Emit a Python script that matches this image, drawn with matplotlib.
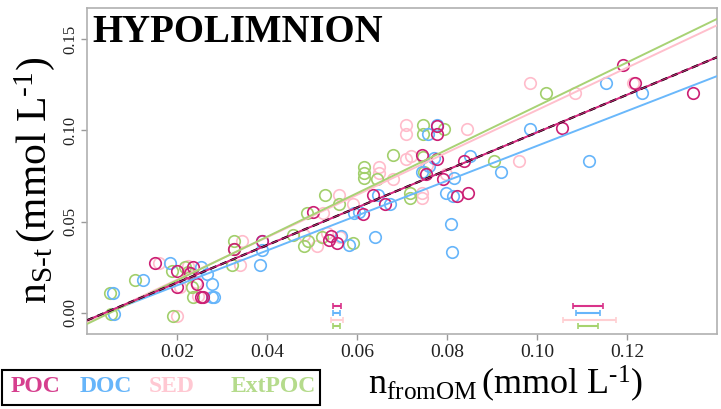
import matplotlib
matplotlib.use("Agg")
import matplotlib.pyplot as plt
import numpy as np
from matplotlib.patches import Rectangle

plt.rcParams['font.family'] = ['Liberation Serif', 'DejaVu Serif']
plt.rcParams['mathtext.fontset'] = 'custom'
plt.rcParams['mathtext.rm'] = 'Liberation Serif'
plt.rcParams['mathtext.it'] = 'Liberation Serif:italic'
plt.rcParams['mathtext.bf'] = 'Liberation Serif:bold'

# ---------------- data ----------------
series_names = ["POC", "DOC", "SED", "ExtPOC"]

poc_x = [0.0151, 0.0199, 0.0236, 0.0229, 0.0244, 0.0199, 0.0253, 0.0257, 0.0327, 0.0388,
         0.0538, 0.0542, 0.0556, 0.0777, 0.0777, 0.0744, 0.0777, 0.0753, 0.0790, 0.0822,
         0.0846, 0.0636, 0.0662, 0.0502, 0.0613, 0.0838, 0.1190, 0.1218, 0.1347, 0.1055]
poc_y = [0.0272, 0.0232, 0.0250, 0.0217, 0.0159, 0.0141, 0.0089, 0.0086, 0.0349, 0.0396,
         0.0400, 0.0421, 0.0383, 0.1024, 0.0978, 0.0863, 0.0843, 0.0761, 0.0732, 0.0640,
         0.0655, 0.0646, 0.0595, 0.0551, 0.0542, 0.0832, 0.1357, 0.1257, 0.1206, 0.1011]

doc_x = [0.0058, 0.0060, 0.0125, 0.0184, 0.0253, 0.0266, 0.0277, 0.0277, 0.0282, 0.0384,
         0.0388, 0.0388, 0.0564, 0.0582, 0.0640, 0.0758, 0.0777, 0.0772, 0.0761, 0.0744,
         0.0850, 0.0920, 0.0816, 0.0797, 0.0814, 0.0646, 0.0673, 0.0593, 0.0604, 0.0809,
         0.0811, 0.0984, 0.1153, 0.1233, 0.1116]
doc_y = [0.0108, -0.0007, 0.0181, 0.0275, 0.0253, 0.0213, 0.0159, 0.0089, 0.0086, 0.0263,
         0.0396, 0.0345, 0.0421, 0.0372, 0.0416, 0.0978, 0.1029, 0.0847, 0.0805, 0.0770,
         0.0859, 0.0770, 0.0737, 0.0655, 0.0640, 0.0646, 0.0595, 0.0546, 0.0554, 0.0487,
         0.0334, 0.1007, 0.1257, 0.1206, 0.0834]

sed_x = [0.0161, 0.0224, 0.0207, 0.0201, 0.0242, 0.0247, 0.0345, 0.0340, 0.0482, 0.0510,
         0.0533, 0.0559, 0.0590, 0.0525, 0.0562, 0.0649, 0.0649, 0.0681, 0.0709, 0.0709,
         0.0709, 0.0719, 0.0755, 0.0798, 0.0744, 0.0744, 0.0844, 0.0984, 0.0960, 0.1084,
         0.1214]
sed_y = [0.0272, 0.0257, 0.0141, -0.0016, 0.0170, 0.0093, 0.0396, 0.0263, 0.0427, 0.0367,
         0.0436, 0.0646, 0.0595, 0.0546, 0.0416, 0.0801, 0.0768, 0.0732, 0.1029, 0.0978,
         0.0843, 0.0859, 0.0810, 0.0761, 0.0655, 0.0631, 0.1007, 0.1257, 0.0834, 0.1206,
         0.1257]

ext_x = [0.0050, 0.0053, 0.0107, 0.0192, 0.0188, 0.0218, 0.0225, 0.0233, 0.0235, 0.0327,
         0.0327, 0.0322, 0.0458, 0.0482, 0.0492, 0.0522, 0.0529, 0.0488, 0.0561, 0.0591,
         0.0616, 0.0616, 0.0616, 0.0644, 0.0681, 0.0746, 0.0746, 0.0746, 0.0749, 0.0794,
         0.0905, 0.0718, 0.0718, 0.1019]
ext_y = [0.0108, -0.0007, 0.0181, -0.0016, 0.0232, 0.0250, 0.0226, 0.0141, 0.0089, 0.0396,
         0.0349, 0.0263, 0.0427, 0.0367, 0.0396, 0.0418, 0.0646, 0.0546, 0.0595, 0.0383,
         0.0801, 0.0768, 0.0737, 0.0732, 0.0863, 0.1029, 0.0978, 0.0852, 0.0770, 0.1007,
         0.0832, 0.0658, 0.0631, 0.1206]

# regression lines: intercept, slope
fit_intercepts = [-0.004, -0.004, -0.005, -0.006]
fit_slopes = [1.029, 0.955, 1.161, 1.193]
overall_intercept = -0.004
overall_slope = 1.029

# error bars (centre, half-width, y level)
err_y = [0.0038, 0.0, -0.0037, -0.0071]
err_left_c = [0.0556, 0.0555, 0.0555, 0.0555]
err_left_h = [0.0009, 0.0008, 0.0013, 0.0008]
err_right_c = [0.1114, 0.1114, 0.1117, 0.1114]
err_right_h = [0.0033, 0.0027, 0.0059, 0.0022]

x_ticks = [0.02, 0.04, 0.06, 0.08, 0.10, 0.12]
y_ticks = [0.00, 0.05, 0.10, 0.15]

point_colors = ["#cc1f74", "#66b5fa", "#ffbccb", "#a2cf6c"]
line_colors = ["#d62a80", "#6ab8fb", "#ffbfcc", "#a8d274"]
err_colors = ["#d9338a", "#66b5fa", "#ffcfd2", "#a6d36e"]
legend_colors = ["#d63f8e", "#66b5fa", "#ffc8d2", "#b5db8c"]

# ---------------- figure ----------------
fig = plt.figure(figsize=(7.21, 4.09), dpi=100)
ax = fig.add_axes([87/721, 1 - 334/409, (717-87)/721, (334-8)/409])

xs = [poc_x, doc_x, sed_x, ext_x]
ys = [poc_y, doc_y, sed_y, ext_y]
order = [2, 3, 1, 0]
for i in order:
    ax.plot(xs[i], ys[i], linestyle='none', marker='o', markersize=8.3,
            markerfacecolor='none', markeredgecolor=point_colors[i],
            markeredgewidth=1.2, zorder=2)

xl = np.array([0.0, 0.14])
for i in [1, 2, 3, 0]:
    ax.plot(xl, fit_intercepts[i] + fit_slopes[i]*xl, color=line_colors[i],
            lw=1.4, zorder=3)
ax.plot(xl, overall_intercept + overall_slope*xl, color='black', lw=1.6,
        linestyle=(0, (3, 2)), zorder=4)
ax.plot(xl, fit_intercepts[0] + fit_slopes[0]*xl, color=line_colors[0],
        lw=0.8, zorder=5, alpha=0.9)

for i in range(4):
    ax.errorbar([err_left_c[i], err_right_c[i]], [err_y[i], err_y[i]],
                xerr=[err_left_h[i], err_right_h[i]], fmt='none',
                ecolor=err_colors[i], elinewidth=1.5, capsize=2, capthick=1.2,
                zorder=3)

ax.set_xlim(0.0, 0.14)
ax.set_ylim(-0.0115, 0.167)
ax.set_xticks(x_ticks)
ax.set_xticklabels([f"{v:.2f}" for v in x_ticks], fontsize=14, color='#222222')
ax.set_yticks(y_ticks)
ax.set_yticklabels([f"{v:.2f}" for v in y_ticks], fontsize=12, color='#222222',
                   rotation=90, va='center')
for s in ax.spines.values():
    s.set_color('#b0b0b0')
    s.set_linewidth(1.2)
ax.tick_params(axis='both', colors='#999999', length=4, width=1)
ax.tick_params(axis='x', labelcolor='#222222', pad=3)
ax.tick_params(axis='y', labelcolor='#222222', pad=2)

ax.text(0.0012, 0.1535, "HYPOLIMNION", fontsize=28, fontweight='bold',
        color='black', va='center', ha='left', zorder=6)

fig.text(506/721, 1 - 384/409,
         r'$\mathrm{n}_{\mathrm{fromOM}}\,\mathrm{(mmol\ L^{\text{-}1})}$',
         fontsize=26, ha='center', va='center')
fig.text(35/721, 1 - 180/409,
         r'$\mathrm{n}_{\mathrm{S\text{-}t}}\,\mathrm{(mmol\ L^{\text{-}1})}$',
         fontsize=30, ha='center', va='center', rotation=90)

# legend box
fig.patches.append(Rectangle((2/721, 1 - 405/409), (320-2)/721, (405-370)/409,
                             transform=fig.transFigure, fill=False,
                             edgecolor='black', linewidth=1.5))
legend_x = [35, 106, 172, 273]
for i in range(4):
    fig.text(legend_x[i]/721, 1 - 387/409, series_names[i], fontsize=17,
             fontweight='bold', color=legend_colors[i], ha='center', va='center')

fig.savefig("out.png", dpi=100)
